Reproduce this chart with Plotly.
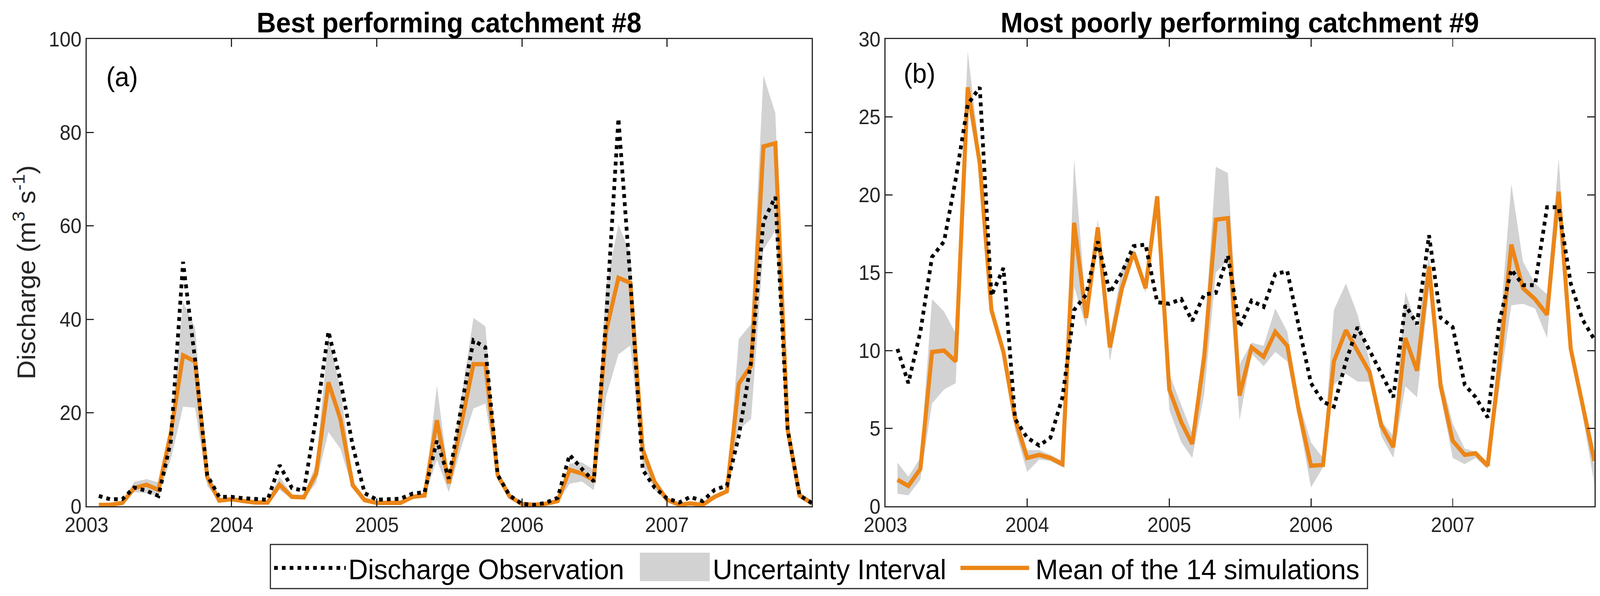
import pandas as pd
import plotly.graph_objects as go

# ---------------- data (monthly, Feb 2003 ... Jan 2008 month-ends) ----------------
dates = pd.date_range("2003-02-01", periods=60, freq="MS")
year_ticks = ["2003", "2004", "2005", "2006", "2007"]

# catchment #8 (best)
obs_8 = [2.2, 1.5, 1.5, 4.0, 3.3, 2.2, 13.8, 52.3, 31.5, 6.6, 2.0, 2.0,
         1.7, 1.5, 1.4, 8.8, 3.9, 3.3, 19.0, 37.4, 27.0, 13.0, 2.8, 1.4,
         1.4, 1.6, 2.7, 3.0, 14.0, 5.9, 21.0, 35.5, 34.0, 6.7, 2.3, 0.5,
         0.3, 0.7, 1.8, 11.0, 8.0, 5.3, 40.0, 83.0, 48.5, 7.8, 4.0, 1.7,
         0.8, 2.0, 1.1, 3.5, 4.4, 15.0, 31.0, 61.0, 66.2, 16.4, 2.3, 0.7]
mean_8 = [0.3, 0.3, 0.7, 3.9, 4.6, 3.5, 15.6, 32.3, 31.0, 6.2, 1.2, 1.5,
          1.1, 0.8, 0.8, 4.6, 2.0, 1.9, 7.0, 26.5, 18.7, 4.5, 1.3, 0.7,
          0.7, 0.7, 2.0, 2.3, 18.4, 4.9, 17.5, 30.4, 30.4, 6.7, 2.1, 0.5,
          0.3, 0.5, 1.1, 7.8, 7.0, 5.6, 37.5, 48.9, 47.8, 12.1, 5.2, 1.4,
          0.3, 0.6, 0.3, 2.0, 3.2, 26.2, 30.1, 77.0, 77.7, 16.4, 2.3, 0.6]
low_8 = [0.1, 0.1, 0.3, 3.0, 2.8, 2.2, 10.0, 21.3, 21.1, 4.4, 0.8, 1.2,
         0.8, 0.5, 0.5, 3.5, 1.6, 1.5, 5.0, 15.9, 12.3, 3.7, 1.0, 0.4,
         0.4, 0.4, 1.6, 1.9, 10.0, 3.0, 12.5, 20.9, 22.0, 5.5, 1.5, 0.2,
         0.1, 0.2, 0.7, 4.8, 5.3, 3.4, 23.5, 32.5, 34.4, 8.9, 3.5, 1.0,
         0.1, 0.3, 0.1, 1.5, 2.8, 16.4, 18.7, 54.9, 59.0, 15.0, 2.0, 0.3]
up_8 = [0.6, 0.6, 1.2, 5.2, 5.8, 5.1, 17.0, 43.7, 38.3, 7.3, 1.8, 1.9,
        1.4, 1.1, 1.1, 6.3, 2.5, 2.5, 9.0, 36.3, 25.4, 5.3, 2.0, 1.0,
        1.0, 1.0, 2.4, 2.8, 25.8, 6.2, 23.0, 40.3, 38.5, 7.5, 2.6, 0.8,
        0.6, 0.8, 1.5, 9.1, 9.4, 7.8, 47.0, 60.3, 54.0, 13.8, 6.0, 1.8,
        0.6, 0.9, 0.6, 2.5, 3.6, 35.8, 39.0, 92.2, 84.1, 17.5, 3.0, 1.2]

# catchment #9 (most poorly performing)
obs_9 = [10.1, 7.9, 11.2, 16.0, 17.0, 21.0, 25.8, 26.9, 13.5, 15.3, 5.6, 4.4,
         3.9, 4.4, 7.0, 12.6, 13.6, 17.0, 13.7, 15.0, 16.7, 16.8, 13.1, 13.0,
         13.3, 11.9, 13.6, 13.7, 16.1, 11.5, 13.2, 12.8, 14.9, 15.1, 11.5, 7.9,
         6.7, 6.4, 9.3, 11.5, 10.0, 8.5, 7.0, 12.9, 11.7, 17.4, 12.1, 11.5,
         7.8, 7.0, 5.7, 11.8, 15.2, 14.2, 14.2, 19.2, 19.2, 14.3, 12.0, 10.7]
mean_9 = [1.7, 1.3, 2.4, 9.9, 10.0, 9.3, 26.9, 22.0, 12.6, 9.9, 5.6, 3.1,
          3.3, 3.1, 2.7, 18.2, 12.1, 17.9, 10.2, 14.0, 16.3, 14.0, 19.9, 7.5,
          5.4, 4.0, 9.6, 18.4, 18.5, 7.1, 10.2, 9.6, 11.2, 10.3, 6.1, 2.6,
          2.65, 9.3, 11.3, 10.0, 8.6, 5.2, 3.8, 10.8, 8.7, 15.4, 7.7, 4.2,
          3.3, 3.4, 2.6, 9.0, 16.8, 14.0, 13.3, 12.3, 20.2, 10.1, 6.4, 2.9]
low_9 = [0.8, 0.7, 1.7, 6.6, 7.5, 7.9, 25.8, 21.4, 12.2, 9.5, 4.9, 2.2,
         3.0, 2.9, 2.5, 14.1, 11.5, 17.0, 9.3, 13.5, 15.9, 13.7, 19.6, 6.2,
         4.1, 3.1, 7.2, 15.0, 15.8, 5.5, 9.8, 9.0, 9.9, 9.3, 5.5, 1.2,
         2.5, 7.8, 8.5, 8.0, 8.0, 4.5, 3.1, 7.7, 7.0, 13.9, 7.1, 3.1,
         2.7, 3.1, 2.4, 7.5, 12.9, 13.0, 12.7, 10.8, 19.4, 9.7, 5.9, 1.4]
up_9 = [2.8, 1.9, 3.1, 13.3, 12.5, 11.1, 29.2, 22.6, 12.9, 10.3, 6.2, 3.6,
        3.6, 3.3, 2.9, 22.3, 12.6, 18.4, 10.9, 15.3, 16.5, 14.3, 20.0, 8.5,
        6.5, 4.7, 10.8, 21.8, 21.4, 9.1, 10.5, 10.3, 12.7, 11.2, 6.7, 4.1,
        3.1, 12.6, 14.3, 12.3, 9.3, 5.5, 4.5, 13.8, 11.5, 16.1, 8.4, 5.3,
        3.7, 3.5, 2.7, 11.0, 20.7, 15.7, 14.3, 13.6, 22.3, 10.4, 7.1, 2.7]

# ---------------- styling ----------------
W, H = 4308, 1527
FONT = "Liberation Sans, Arial, Helvetica, sans-serif"
ORANGE = "#EC8617"
GRAY = "rgb(210,210,210)"
AXC = "#262626"


def px(x):
    return x / W


def py(y):
    return 1 - y / H


fig = go.Figure()
panels = [("x", "y", obs_8, mean_8, low_8, up_8),
          ("x2", "y2", obs_9, mean_9, low_9, up_9)]
for xa, ya, obs, mean, low, up in panels:
    fig.add_trace(go.Scatter(x=dates, y=low, xaxis=xa, yaxis=ya, mode="lines",
                             line=dict(width=0, color=GRAY), showlegend=False,
                             hoverinfo="skip"))
    fig.add_trace(go.Scatter(x=dates, y=up, xaxis=xa, yaxis=ya, mode="lines",
                             line=dict(width=0, color=GRAY), fill="tonexty",
                             fillcolor=GRAY, showlegend=False, hoverinfo="skip",
                             name="Uncertainty Interval"))
    fig.add_trace(go.Scatter(x=dates, y=mean, xaxis=xa, yaxis=ya, mode="lines",
                             line=dict(width=11, color=ORANGE), showlegend=False,
                             name="Mean of the 14 simulations"))
    fig.add_trace(go.Scatter(x=dates, y=obs, xaxis=xa, yaxis=ya, mode="lines",
                             line=dict(width=10, color="black", dash="10px,11px"),
                             showlegend=False, name="Discharge Observation"))

axis_common = dict(showline=True, linecolor=AXC, linewidth=2.5, mirror="ticks",
                   ticks="inside", ticklen=20, tickwidth=2.5, tickcolor=AXC,
                   showgrid=False, zeroline=False, automargin=False,
                   tickfont=dict(family=FONT, size=53, color=AXC))
tickvals = [f"{y}-01-01" for y in year_ticks]

fig.update_layout(
    width=W, height=H, margin=dict(l=0, r=0, t=0, b=0, autoexpand=False),
    paper_bgcolor="white", plot_bgcolor="white", showlegend=False,
    font=dict(family=FONT, color="black"),
    xaxis=dict(axis_common, domain=[px(233), px(2186)], anchor="y",
               range=["2003-01-01", "2008-01-01"], tickvals=tickvals,
               ticktext=year_ticks),
    xaxis2=dict(axis_common, domain=[px(2384), px(4293)], anchor="y2",
                range=["2003-01-01", "2008-01-01"], tickvals=tickvals,
                ticktext=year_ticks),
    yaxis=dict(axis_common, domain=[py(1297), py(100)], anchor="x",
               range=[0, 100], tickvals=[0, 20, 40, 60, 80, 100]),
    yaxis2=dict(axis_common, domain=[py(1297), py(100)], anchor="x2",
                range=[0, 30], tickvals=[0, 5, 10, 15, 20, 25, 30]),
)

ann = []
ann.append(dict(x=px(1209), y=py(100), xref="paper", yref="paper", xanchor="center",
                yanchor="bottom", showarrow=False,
                text="<b>Best performing catchment #8</b>",
                font=dict(family=FONT, size=72, color="black")))
ann.append(dict(x=px(3338), y=py(100), xref="paper", yref="paper", xanchor="center",
                yanchor="bottom", showarrow=False,
                text="<b>Most poorly performing catchment #9</b>",
                font=dict(family=FONT, size=72, color="black")))
ann.append(dict(x=px(284), y=py(197), xref="paper", yref="paper", xanchor="left",
                yanchor="middle", showarrow=False, text="(a)",
                font=dict(family=FONT, size=70, color="black")))
ann.append(dict(x=px(2431), y=py(188), xref="paper", yref="paper", xanchor="left",
                yanchor="middle", showarrow=False, text="(b)",
                font=dict(family=FONT, size=70, color="black")))
ann.append(dict(x=px(66), y=py(698), xref="paper", yref="paper", xanchor="center",
                yanchor="middle", showarrow=False, textangle=-90,
                text="Discharge (m<sup>3</sup> s<sup>-1</sup>)",
                font=dict(family=FONT, size=68, color=AXC)))

# legend (drawn as a box with samples and labels)
shapes = []
shapes.append(dict(type="rect", xref="paper", yref="paper", x0=px(728), x1=px(3682),
                   y0=py(1508), y1=py(1395), line=dict(color=AXC, width=3),
                   fillcolor="white", layer="above"))
shapes.append(dict(type="line", xref="paper", yref="paper", x0=px(738), x1=px(931),
                   y0=py(1455), y1=py(1455),
                   line=dict(color="black", width=10, dash="10px,11px")))
shapes.append(dict(type="rect", xref="paper", yref="paper", x0=px(1723), x1=px(1911),
                   y0=py(1489), y1=py(1416), line=dict(width=0), fillcolor=GRAY))
shapes.append(dict(type="line", xref="paper", yref="paper", x0=px(2586), x1=px(2771),
                   y0=py(1455), y1=py(1455), line=dict(color=ORANGE, width=11)))
legend_labels = [("Discharge Observation", 936),
                 ("Uncertainty Interval", 1917),
                 ("Mean of the 14 simulations", 2786)]
for txt, xl in legend_labels:
    ann.append(dict(x=px(xl), y=py(1458), xref="paper", yref="paper", xanchor="left",
                    yanchor="middle", showarrow=False, text=txt,
                    font=dict(family=FONT, size=73, color="black")))

fig.update_layout(annotations=ann, shapes=shapes)

fit_script = """
var gd = document.getElementById('{plot_id}');
document.documentElement.style.margin = '0';
document.documentElement.style.overflow = 'hidden';
document.body.style.margin = '0';
document.body.style.overflow = 'hidden';
var sx = window.innerWidth / 4308, sy = window.innerHeight / 1527;
gd.style.transformOrigin = '0 0';
gd.style.transform = 'scale(' + sx + ',' + sy + ')';
"""
fig.write_html("out.html", post_script=fit_script,
               config={"displayModeBar": False})
